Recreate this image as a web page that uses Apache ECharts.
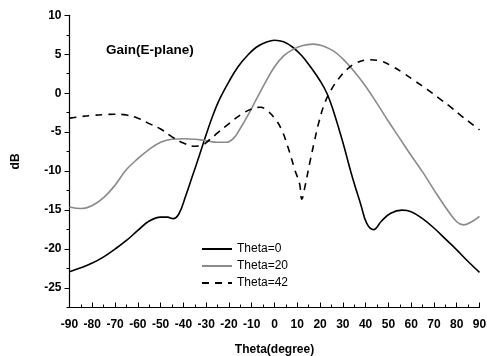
<!DOCTYPE html>
<html>
<head>
<meta charset="utf-8">
<script src="https://cdn.jsdelivr.net/npm/echarts@6/dist/echarts.min.js"></script>
<style>
  html, body { margin: 0; padding: 0; background: #fff; }
  #chart { width: 487px; height: 356px; }
</style>
</head>
<body>
<div id="chart"></div>
<script>
// E-plane gain patterns for three steering angles (dB vs. theta in degrees)
const angle0 = [-90, -85, -80, -75, -70, -65, -60, -55, -50, -47, -44.5, -42, -39, -36, -33, -30, -27, -24, -20, -16, -12, -8, -4, 0, 4, 8, 12, 16, 20, 23, 26, 30, 34, 38, 40.5, 43.5, 47, 51, 56, 60, 65, 70, 75, 80, 85, 90];
const gain0  = [-22.9, -22.4, -21.8, -21.0, -20.0, -18.9, -17.6, -16.4, -15.9, -15.9, -16.1, -15.5, -13.2, -10.6, -8.0, -5.3, -2.8, -0.7, 1.5, 3.4, 4.8, 5.9, 6.5, 6.8, 6.6, 5.9, 4.8, 3.3, 1.6, 0.0, -2.4, -6.3, -10.6, -14.4, -16.7, -17.5, -16.4, -15.4, -15.0, -15.2, -16.1, -17.3, -18.7, -20.1, -21.6, -23.0];

const angle20 = [-90, -85, -80, -75, -70, -65, -60, -55, -50, -45, -40, -35, -30, -25, -21, -18, -15, -12, -8, -4, 0, 4, 8, 12, 17, 21, 26, 30, 35, 40, 45, 50, 55, 60, 65, 70, 75, 80, 83, 86, 90];
const gain20  = [-14.6, -14.8, -14.4, -13.4, -11.8, -9.8, -8.4, -7.2, -6.3, -5.9, -5.85, -5.9, -6.1, -6.3, -6.3, -5.8, -4.5, -3.0, -0.8, 1.4, 3.4, 4.8, 5.6, 6.1, 6.3, 6.1, 5.4, 4.4, 2.8, 0.9, -1.3, -3.6, -5.8, -8.0, -10.1, -12.4, -14.6, -16.5, -16.9, -16.6, -15.8];

const angle42 = [-90, -85, -80, -75, -70, -65, -60, -55, -50, -45, -40, -35, -32, -29, -25, -20, -15, -10, -6, -3, 0, 3, 6, 9, 11, 12, 13.5, 15.5, 17.5, 19.5, 22, 25, 28, 32, 36, 42, 47, 52, 57, 62, 67, 72, 77, 82, 86, 90];
const gain42  = [-3.2, -3.0, -2.85, -2.75, -2.7, -2.8, -3.2, -3.9, -4.6, -5.6, -6.4, -6.8, -6.7, -6.1, -5.1, -3.9, -2.8, -2.0, -1.8, -2.3, -3.2, -4.6, -7.0, -9.9, -11.6, -13.6, -11.8, -8.9, -6.2, -3.7, -1.3, 0.5, 1.8, 3.1, 3.9, 4.3, 4.1, 3.4, 2.5, 1.5, 0.5, -0.6, -1.7, -2.9, -3.8, -4.7];

const seriesNames = ['Theta=0', 'Theta=20', 'Theta=42'];
const yLabelValues = [-25, -20, -15, -10, -5, 0, 5, 10];

const pairs = (xs, ys) => xs.map((x, i) => [x, ys[i]]);

const tickFont = { fontFamily: 'Liberation Sans, Arial, sans-serif', fontWeight: 'bold', fontSize: 12, color: '#000' };

const chart = echarts.init(document.getElementById('chart'), null, { renderer: 'canvas' });
chart.setOption({
  animation: false,
  backgroundColor: '#fff',
  title: {
    text: 'Gain(E-plane)',
    left: 106, top: 43,
    padding: 0,
    textStyle: { fontFamily: 'Liberation Sans, Arial, sans-serif', fontWeight: 'bold', fontSize: 13.5, color: '#000' }
  },
  legend: {
    orient: 'vertical',
    left: 201, top: 243,
    padding: 0,
    itemWidth: 30, itemHeight: 12, itemGap: 5,
    itemStyle: { opacity: 0 },
    textStyle: { fontFamily: 'Liberation Sans, Arial, sans-serif', fontSize: 12, color: '#000' },
    data: seriesNames
  },
  grid: { left: 69.5, right: 7.5, top: 15.3, bottom: 48.5, containLabel: false, outerBoundsMode: 'none' },
  xAxis: {
    type: 'value', min: -90, max: 90, interval: 10,
    name: 'Theta(degree)', nameLocation: 'middle', nameGap: 36,
    nameTextStyle: tickFont,
    axisLine: { onZero: false, lineStyle: { color: '#000', width: 1.2 } },
    axisTick: { inside: true, length: 5, lineStyle: { color: '#000', width: 1 } },
    minorTick: { show: true, splitNumber: 2, length: 3, lineStyle: { color: '#000', width: 1 } },
    axisLabel: Object.assign({ margin: 11 }, tickFont),
    splitLine: { show: false }
  },
  yAxis: [
    {
      type: 'value', min: -27.5, max: 10,
      name: 'dB', nameLocation: 'middle', nameGap: 48, nameRotate: 90,
      nameTextStyle: tickFont,
      axisLine: { onZero: false, lineStyle: { color: '#000', width: 1.2 } },
      axisTick: { inside: false, length: 5, customValues: yLabelValues, lineStyle: { color: '#000', width: 1 } },
      axisLabel: Object.assign({ margin: 8, customValues: yLabelValues }, tickFont),
      splitLine: { show: false }
    },
    {
      // minor ticks every 2.5 dB
      type: 'value', min: -27.5, max: 10, interval: 2.5, position: 'left',
      axisLine: { show: false, onZero: false },
      axisTick: { inside: false, length: 3, lineStyle: { color: '#000', width: 1 } },
      axisLabel: { show: false },
      splitLine: { show: false }
    }
  ],
  series: [
    {
      name: seriesNames[0], type: 'line', symbol: 'none', smooth: 0.4,
      lineStyle: { color: '#000', width: 1.6 },
      itemStyle: { color: '#000' },
      data: pairs(angle0, gain0)
    },
    {
      name: seriesNames[1], type: 'line', symbol: 'none', smooth: 0.4,
      lineStyle: { color: '#8a8a8a', width: 1.6 },
      itemStyle: { color: '#8a8a8a' },
      data: pairs(angle20, gain20)
    },
    {
      name: seriesNames[2], type: 'line', symbol: 'none', smooth: 0.4,
      lineStyle: { color: '#000', width: 1.6, type: [7, 6] },
      itemStyle: { color: '#000' },
      data: pairs(angle42, gain42)
    }
  ]
});
</script>
</body>
</html>
